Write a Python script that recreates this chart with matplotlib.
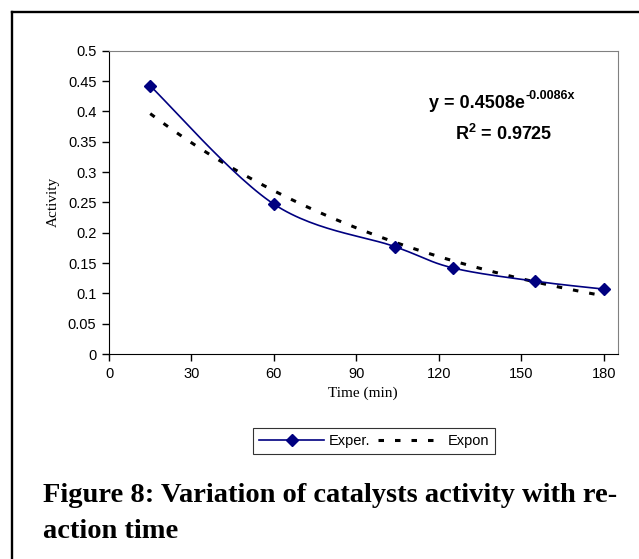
import numpy as np
import matplotlib
matplotlib.use("Agg")
import matplotlib.pyplot as plt
from matplotlib.lines import Line2D

plt.rcParams["mathtext.fontset"] = "custom"
plt.rcParams["mathtext.bf"] = "Liberation Sans:bold"
plt.rcParams["mathtext.rm"] = "Liberation Sans:bold"

# measured catalyst activity
time_min = [15, 60, 104, 125, 155, 180]
activity = [0.442, 0.247, 0.177, 0.142, 0.120, 0.107]

# exponential trendline y = a * exp(b x)
fit_a = 0.4508
fit_b = -0.0086
r_squared = 0.9725

x_ticks = [0, 30, 60, 90, 120, 150, 180]
y_ticks = [0, 0.05, 0.1, 0.15, 0.2, 0.25, 0.3, 0.35, 0.4, 0.45, 0.5]

W, H = 639, 559
fig = plt.figure(figsize=(W / 100, H / 100), dpi=100)

# page frame (top and left edges only)
fig.add_artist(Line2D([12 / W, 1], [1 - 12 / H, 1 - 12 / H], color="black", lw=1.7,
                      transform=fig.transFigure))
fig.add_artist(Line2D([12 / W, 12 / W], [0, 1 - 12 / H], color="black", lw=1.7,
                      transform=fig.transFigure))

left, right, top, bottom = 109, 617.5, 50.7, 354
ax = fig.add_axes([left / W, 1 - bottom / H, (right - left) / W, (bottom - top) / H])
ax.set_xlim(0, 185)
ax.set_ylim(0, 0.5)


def smooth(xs, ys, sx, sy, n=30):
    # Excel-like smoothed line: Catmull-Rom bezier segments in pixel space
    p = np.column_stack([np.asarray(xs) * sx, np.asarray(ys) * sy])
    pts = np.vstack([p[0], p, p[-1]])
    out = []
    t = np.linspace(0, 1, n)[:, None]
    for i in range(1, len(pts) - 2):
        p0, p1, p2, p3 = pts[i - 1], pts[i], pts[i + 1], pts[i + 2]
        c1 = p1 + (p2 - p0) / 6
        c2 = p2 - (p3 - p1) / 6
        seg = ((1 - t) ** 3) * p1 + 3 * ((1 - t) ** 2) * t * c1 + 3 * (1 - t) * t ** 2 * c2 + t ** 3 * p2
        out.append(seg if i == 1 else seg[1:])
    out = np.vstack(out)
    return out[:, 0] / sx, out[:, 1] / sy


sx = (right - left) / 185
sy = (bottom - top) / 0.5
cx, cy = smooth(time_min, activity, sx, sy)
ax.plot(cx, cy, color="#000080", lw=1.2, zorder=3)
ax.plot(time_min, activity, linestyle="none", marker="D", ms=6, color="#000080", zorder=4)

tx = np.linspace(time_min[0], time_min[-1], 200)
ax.plot(tx, fit_a * np.exp(fit_b * tx), color="black", lw=2.2, linestyle=(0, (1.8, 3.6)), zorder=2)

ax.set_xticks(x_ticks)
ax.set_yticks(y_ticks)
ax.set_yticklabels([f"{v:g}" for v in y_ticks])
ax.tick_params(direction="out", length=5, width=1, labelsize=10.5, pad=4)
for lab in ax.get_xticklabels() + ax.get_yticklabels():
    lab.set_fontfamily("Liberation Sans")

for s in ["top", "right"]:
    ax.spines[s].set_color("#808080")
for s in ["left", "bottom"]:
    ax.spines[s].set_color("black")

ax.set_xlabel("Time (min)", fontfamily="Liberation Serif", fontsize=11, labelpad=4)
ax.set_ylabel("Activity", fontfamily="Liberation Serif", fontsize=11, labelpad=6)

# trendline equation and R^2
base = fig.text(429 / W, 1 - 104 / H, f"y = {fit_a:.4f}e", fontsize=13, fontweight="bold",
                fontfamily="Liberation Sans", ha="left", va="center")
fig.canvas.draw()
bb = base.get_window_extent()
fig.text((bb.x1 + 1) / W, 1 - 96 / H, f"{fit_b:.4f}x", fontsize=9, fontweight="bold",
         fontfamily="Liberation Sans", ha="left", va="center")
fig.text(504 / W, 1 - 134 / H, f"R$^{{\\mathbf{{2}}}}$ = {r_squared:.4f}", fontsize=13,
         fontweight="bold", fontfamily="Liberation Sans", ha="center", va="center")

handles = [
    Line2D([], [], color="#000080", lw=1.2, marker="D", ms=6),
    Line2D([], [], color="black", lw=2.2, linestyle=(0, (1.8, 3.6))),
]
leg = fig.legend(handles, ["Exper.", "Expon"], loc="center", ncol=2,
                 bbox_to_anchor=(374 / W, 1 - 441 / H), frameon=True, fancybox=False,
                 edgecolor="black", handlelength=4.5, columnspacing=0.5, handletextpad=0.3,
                 borderpad=0.4, prop={"family": "Liberation Sans", "size": 10.5})
leg.get_frame().set_linewidth(0.8)

fig.text(43 / W, 1 - 496 / H, "Figure 8: Variation of catalysts activity with re-",
         fontfamily="Liberation Serif", fontweight="bold", fontsize=20.5, va="center")
fig.text(43 / W, 1 - 531 / H, "action time",
         fontfamily="Liberation Serif", fontweight="bold", fontsize=20.5, va="center")

fig.savefig("out.png", dpi=100)
